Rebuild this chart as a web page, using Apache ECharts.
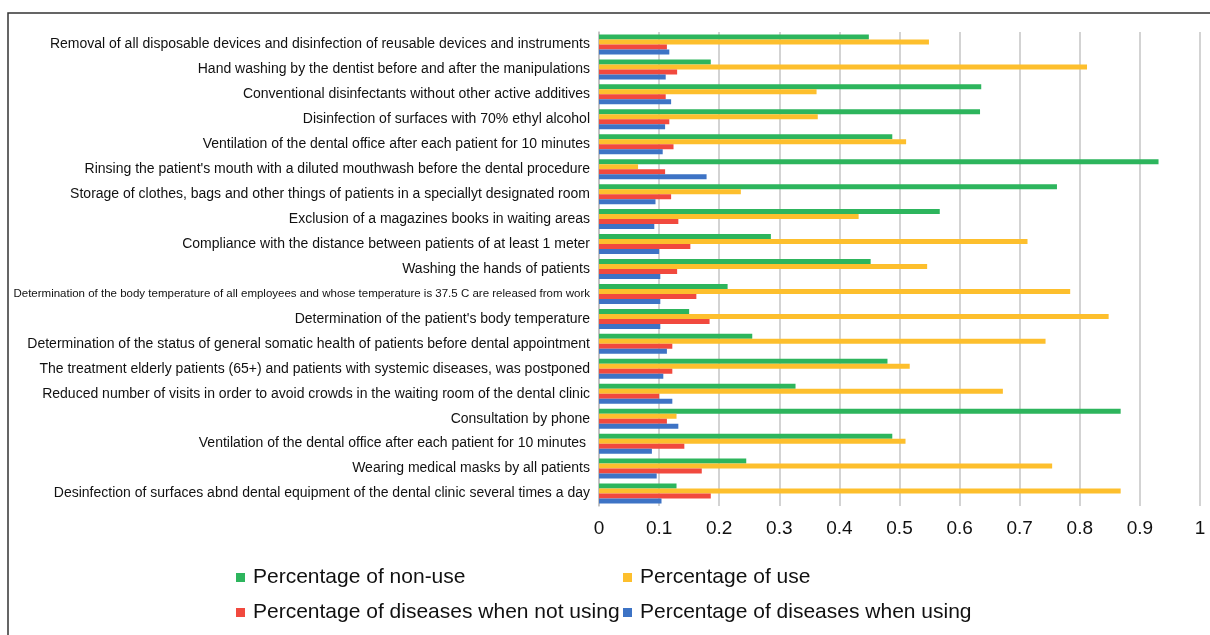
<!DOCTYPE html>
<html>
<head>
<meta charset="utf-8">
<script src="https://cdn.jsdelivr.net/npm/echarts@6/dist/echarts.min.js"></script>
<style>html,body{margin:0;padding:0;background:#fff;}#c{width:1210px;height:635px;}</style>
</head>
<body>
<div id="c"></div>
<script>
const categories = [
  "Removal of all disposable devices and disinfection of reusable devices and instruments",
  "Hand washing by the dentist before and after the manipulations",
  "Conventional disinfectants without other active additives",
  "Disinfection of surfaces with 70% ethyl alcohol",
  "Ventilation of the dental office after each patient for 10 minutes",
  "Rinsing the patient's mouth with a diluted mouthwash before the dental procedure",
  "Storage of clothes, bags and other things of patients in a speciallyt designated room",
  "Exclusion of a magazines books in waiting areas",
  "Compliance with the distance between patients of at least 1 meter",
  "Washing the hands of patients",
  "Determination of the body temperature of all employees and whose temperature is 37.5 C are released from work",
  "Determination of the patient's body temperature",
  "Determination of the status of general somatic health of patients before dental appointment",
  "The treatment elderly patients (65+) and patients with systemic diseases, was postponed",
  "Reduced number of visits in order to avoid crowds in the waiting room of the dental clinic",
  "Consultation by phone",
  "Ventilation of the dental office after each patient for 10 minutes ",
  "Wearing medical masks by all patients",
  "Desinfection of surfaces abnd dental equipment of the dental clinic several times a day"
];
const seriesNames = ["Percentage of non-use", "Percentage of use", "Percentage of diseases when not using", "Percentage of diseases when using"];
const nonUse = [0.449, 0.186, 0.636, 0.634, 0.488, 0.931, 0.762, 0.567, 0.286, 0.452, 0.214, 0.150, 0.255, 0.480, 0.327, 0.868, 0.488, 0.245, 0.129];
const use = [0.549, 0.812, 0.362, 0.364, 0.511, 0.065, 0.236, 0.432, 0.713, 0.546, 0.784, 0.848, 0.743, 0.517, 0.672, 0.129, 0.510, 0.754, 0.868];
const diseasesNotUsing = [0.113, 0.130, 0.111, 0.117, 0.124, 0.110, 0.120, 0.132, 0.152, 0.130, 0.162, 0.184, 0.122, 0.122, 0.100, 0.113, 0.142, 0.171, 0.186];
const diseasesUsing = [0.117, 0.111, 0.120, 0.110, 0.106, 0.179, 0.094, 0.092, 0.100, 0.102, 0.102, 0.102, 0.113, 0.107, 0.122, 0.132, 0.088, 0.096, 0.104];
const xTicks = [0, 0.1, 0.2, 0.3, 0.4, 0.5, 0.6, 0.7, 0.8, 0.9, 1];
const colors = ["#2db55d", "#fdbf2d", "#f1493e", "#3d73c5"];

const chart = echarts.init(document.getElementById('c'));
const seriesData = [nonUse, use, diseasesNotUsing, diseasesUsing];
const legendPos = [[231, 562], [618, 562], [231, 597], [618, 597]];
const FONT = "'Liberation Sans', Arial, sans-serif";
chart.setOption({
  animation: false,
  color: colors,
  textStyle: { fontFamily: FONT },
  graphic: [{
    type: 'rect', shape: { x: 8, y: 13, width: 1220, height: 640 },
    style: { fill: 'none', stroke: '#333', lineWidth: 1.5 }
  }],
  legend: seriesNames.map((n, i) => ({
    data: [n], left: legendPos[i][0], top: legendPos[i][1],
    itemWidth: 9, itemHeight: 9, itemGap: 0, icon: 'rect',
    textStyle: { fontSize: 21, color: '#111', fontFamily: FONT, padding: [0, 0, 0, 3] }
  })),
  grid: { left: 599, right: 10, top: 32, bottom: 129, containLabel: false, outerBoundsMode: 'none' },
  xAxis: {
    type: 'value', min: 0, max: 1, interval: 0.1,
    axisLine: { show: false }, axisTick: { show: false },
    splitLine: { show: true, lineStyle: { color: '#d3d3d3', width: 2 } },
    axisLabel: { fontSize: 19, color: '#111', margin: 13, fontFamily: FONT,
      formatter: v => { const t = xTicks.find(x => Math.abs(x - v) < 1e-6); return t === undefined ? '' : String(t); } }
  },
  yAxis: {
    type: 'category', data: categories, inverse: true,
    axisLine: { show: true, lineStyle: { color: '#bfbfbf', width: 1.5 } },
    axisTick: { show: false },
    axisLabel: {
      fontSize: 14, color: '#111', margin: 9,
      formatter: v => v.length > 95 ? '{s|' + v + '}' : v,
      rich: { s: { fontSize: 11.5, color: '#111' } }
    }
  },
  series: seriesNames.map((n, i) => ({
    name: n, type: 'bar', data: seriesData[i],
    barWidth: 5, barGap: '0%',
    itemStyle: { color: colors[i] }
  }))
});
</script>
</body>
</html>
